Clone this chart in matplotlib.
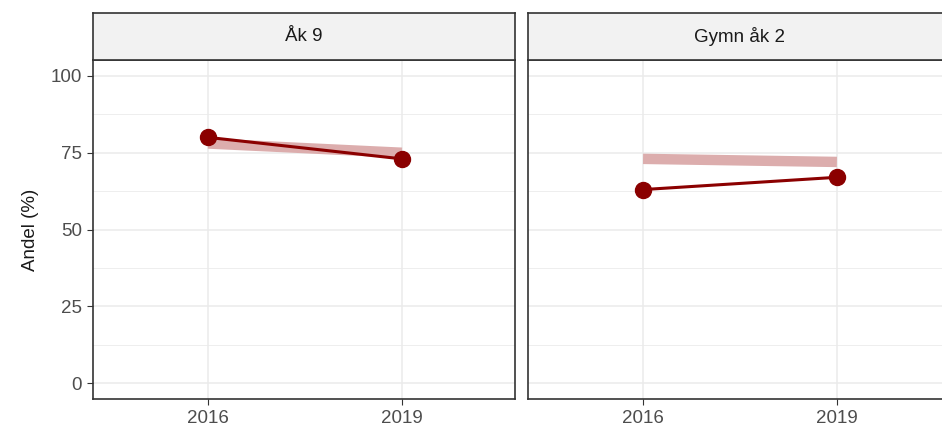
import numpy as np
import matplotlib.pyplot as plt

plt.rcParams["font.family"] = ["Liberation Sans", "DejaVu Sans"]

# data
years = [2016, 2019]
panels = ["Åk 9", "Gymn åk 2"]
andel = {"Åk 9": [80, 73], "Gymn åk 2": [63, 67]}
jamfor = {"Åk 9": [78, 75], "Gymn åk 2": [73, 72]}
yticks = [0, 25, 50, 75, 100]

dark = "#8B0000"
light = "#DCADAD"
border = "#333333"
gridc = "#EBEBEB"
textc = "#4D4D4D"
fs = 13.5

fig = plt.figure(figsize=(9.42, 4.37), dpi=100)

W, H = 942, 437
lefts = [93, 528]
pw = 422
top, bottom = 60, 399
strip_top = 13

for i, p in enumerate(panels):
    ax = fig.add_axes([lefts[i] / W, (H - bottom) / H, pw / W, (bottom - top) / H])
    sx = fig.add_axes([lefts[i] / W, (H - top) / H, pw / W, (top - strip_top) / H])

    # grid
    for y in yticks:
        ax.axhline(y, color=gridc, lw=1.1, zorder=0)
    for y in [12.5, 37.5, 62.5, 87.5]:
        ax.axhline(y, color=gridc, lw=0.6, zorder=0)
    for x in years:
        ax.axvline(x, color=gridc, lw=1.1, zorder=0)

    ax.plot(years, jamfor[p], color=light, lw=7.5, solid_capstyle="butt", zorder=2)
    ax.plot(years, andel[p], color=dark, lw=2.2, zorder=3)
    ax.plot(years, andel[p], "o", color=dark, ms=11.5, zorder=4)

    ax.set_xlim(2014.22, 2020.75)
    ax.set_ylim(-5.2, 105.2)
    ax.set_xticks(years)
    ax.set_yticks(yticks)
    ax.tick_params(colors="#333333", labelsize=fs, length=4, width=0.8,
                   labelcolor=textc, pad=4)
    if i == 1:
        ax.set_yticklabels([])
        ax.tick_params(axis="y", length=0)
    else:
        ax.set_ylabel("Andel (%)", fontsize=fs, color="#1a1a1a", labelpad=8)
    for s in ax.spines.values():
        s.set_color(border)
        s.set_linewidth(1.2)

    sx.set_facecolor("#F2F2F2")
    sx.set_xticks([])
    sx.set_yticks([])
    for s in sx.spines.values():
        s.set_color(border)
        s.set_linewidth(1.2)
    sx.text(0.5, 0.5, p, ha="center", va="center", fontsize=fs, color="#1a1a1a",
            transform=sx.transAxes)

fig.savefig("out.png", dpi=100)
